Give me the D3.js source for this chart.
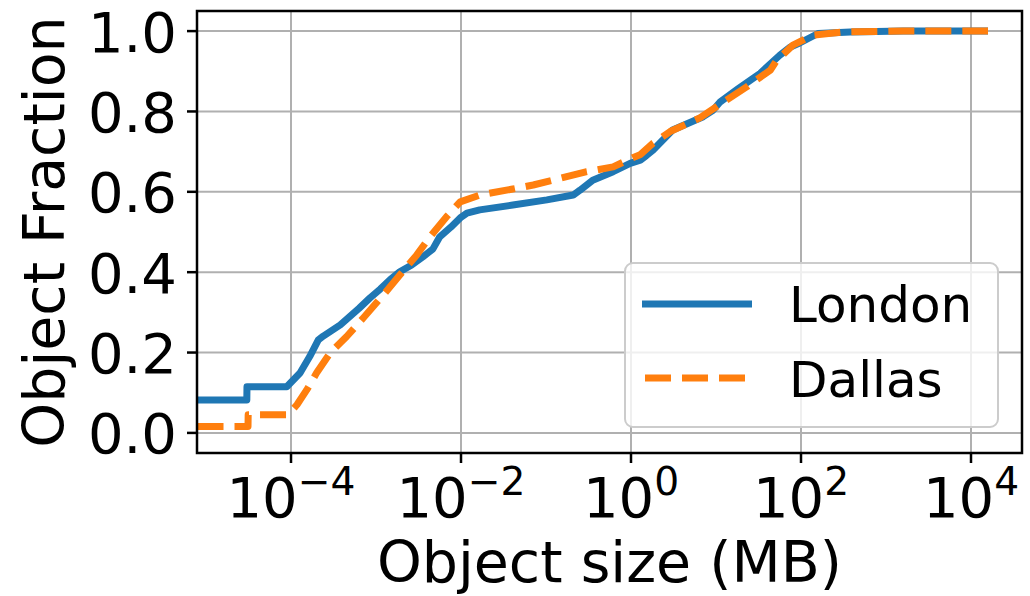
<!DOCTYPE html>
<html>
<head>
<meta charset="utf-8">
<script src="https://cdn.jsdelivr.net/npm/d3@7"></script>
<style>
  html, body { margin: 0; padding: 0; background: #fff; }
  svg { display: block; }
  text { font-family: "DejaVu Sans", sans-serif; fill: #000; }
</style>
</head>
<body>
<svg id="chart" width="1030" height="596"></svg>
<script>
// ---- data (object size given as log10 of MB, fraction is CDF) ----
const londonLogSize = [-5.1, -4.52, -4.518, -4.05, -3.894, -3.78, -3.68, -3.62, -3.42, -3.2, -3.07, -2.95, -2.835, -2.72, -2.58, -2.45, -2.33, -2.25, -2.12, -2.01, -1.93, -1.78, -1.39, -0.99, -0.68, -0.60, -0.45, -0.21, -0.01, 0.11, 0.18, 0.26, 0.49, 0.85, 0.965, 1.05, 1.25, 1.52, 1.75, 1.87, 1.99, 2.2, 2.58, 3.2, 4.2];
const londonFrac    = [0.082, 0.082, 0.115, 0.115, 0.149, 0.19, 0.231, 0.241, 0.269, 0.31, 0.336, 0.358, 0.381, 0.401, 0.418, 0.438, 0.458, 0.488, 0.512, 0.535, 0.547, 0.555, 0.567, 0.580, 0.592, 0.604, 0.629, 0.650, 0.671, 0.679, 0.69, 0.704, 0.754, 0.787, 0.803, 0.824, 0.855, 0.895, 0.94, 0.96, 0.971, 0.994, 0.998, 1.0, 1.0];

const dallasLogSize = [-5.1, -4.506, -4.504, -4.035, -3.93, -3.815, -3.70, -3.54, -3.345, -3.15, -2.92, -2.72, -2.52, -2.365, -2.17, -2.01, -1.78, -1.39, -1.15, -0.92, -0.52, -0.21, 0.02, 0.106, 0.26, 0.46, 0.81, 1.05, 1.36, 1.64, 1.71, 1.905, 2.14, 2.5, 3.2, 4.2];
const dallasFrac    = [0.016, 0.016, 0.045, 0.045, 0.07, 0.107, 0.149, 0.199, 0.24, 0.286, 0.342, 0.393, 0.443, 0.488, 0.538, 0.575, 0.592, 0.607, 0.617, 0.629, 0.650, 0.662, 0.685, 0.692, 0.721, 0.75, 0.784, 0.818, 0.861, 0.903, 0.926, 0.965, 0.99, 0.998, 1.0, 1.0];

const xTickExponents = [-4, -2, 0, 2, 4];
const yTicks = [0.0, 0.2, 0.4, 0.6, 0.8, 1.0];
const seriesNames = ["London", "Dallas"];

// ---- layout ----
const L = 197, R = 1022, T = 11, B = 453;
const svg = d3.select("#chart");

const x = d3.scaleLog().domain([Math.pow(10, -5.106), Math.pow(10, 4.6)]).range([L, R]);
const y = d3.scaleLinear().domain([-0.05, 1.05]).range([B, T]);

// grid
const grid = svg.append("g");
xTickExponents.forEach(e => {
  const px = x(Math.pow(10, e));
  grid.append("line").attr("x1", px).attr("x2", px).attr("y1", T).attr("y2", B)
    .attr("stroke", "#b0b0b0").attr("stroke-width", 2);
});
yTicks.forEach(v => {
  const py = y(v);
  grid.append("line").attr("x1", L).attr("x2", R).attr("y1", py).attr("y2", py)
    .attr("stroke", "#b0b0b0").attr("stroke-width", 2);
});

// lines
const line = d3.line().x(d => x(Math.pow(10, d[0]))).y(d => y(d[1]));
const london = londonLogSize.map((s, i) => [s, londonFrac[i]]);
const dallas = dallasLogSize.map((s, i) => [s, dallasFrac[i]]);

const plot = svg.append("g");
plot.append("path").datum(london).attr("d", line)
  .attr("fill", "none").attr("stroke", "#1f77b4").attr("stroke-width", 7)
  .attr("stroke-linejoin", "round");
plot.append("path").datum(dallas).attr("d", line)
  .attr("fill", "none").attr("stroke", "#ff7f0e").attr("stroke-width", 7)
  .attr("stroke-dasharray", "26,11").attr("stroke-linejoin", "round");

// frame
svg.append("rect").attr("x", L).attr("y", T).attr("width", R - L).attr("height", B - T)
  .attr("fill", "none").attr("stroke", "#000").attr("stroke-width", 2.5);

// y ticks
const fsTick = 56;
yTicks.forEach(v => {
  const py = y(v);
  svg.append("line").attr("x1", L - 10).attr("x2", L).attr("y1", py).attr("y2", py)
    .attr("stroke", "#000").attr("stroke-width", 2.5);
  svg.append("text").attr("x", 177).attr("y", py + 0.365 * fsTick)
    .attr("text-anchor", "end").attr("font-size", fsTick).text(v.toFixed(1));
});

// x ticks
xTickExponents.forEach(e => {
  const px = x(Math.pow(10, e));
  svg.append("line").attr("x1", px).attr("x2", px).attr("y1", B).attr("y2", B + 10)
    .attr("stroke", "#000").attr("stroke-width", 2.5);
  const t = svg.append("text").attr("x", px).attr("y", 517)
    .attr("text-anchor", "middle").attr("font-size", fsTick);
  t.append("tspan").text("10");
  t.append("tspan").attr("font-size", fsTick * 0.7).attr("dy", -22)
    .text(e < 0 ? "\u2212" + Math.abs(e) : String(e));
});

// axis labels
svg.append("text").attr("x", (L + R) / 2).attr("y", 582)
  .attr("text-anchor", "middle").attr("font-size", 57).text("Object size (MB)");
svg.append("text").attr("transform", `translate(64,${(T + B) / 2}) rotate(-90)`)
  .attr("text-anchor", "middle").attr("font-size", 57).text("Object Fraction");

// legend
const lg = svg.append("g");
lg.append("rect").attr("x", 625).attr("y", 263).attr("width", 373).attr("height", 164)
  .attr("rx", 8).attr("fill", "#fff").attr("fill-opacity", 0.8)
  .attr("stroke", "#cccccc").attr("stroke-width", 2);
lg.append("line").attr("x1", 642).attr("x2", 752).attr("y1", 304).attr("y2", 304)
  .attr("stroke", "#1f77b4").attr("stroke-width", 7);
lg.append("line").attr("x1", 645).attr("x2", 752).attr("y1", 378).attr("y2", 378)
  .attr("stroke", "#ff7f0e").attr("stroke-width", 7).attr("stroke-dasharray", "26,11");
lg.append("text").attr("x", 789).attr("y", 322).attr("font-size", 50).text(seriesNames[0]);
lg.append("text").attr("x", 789).attr("y", 397).attr("font-size", 50).text(seriesNames[1]);
</script>
</body>
</html>
